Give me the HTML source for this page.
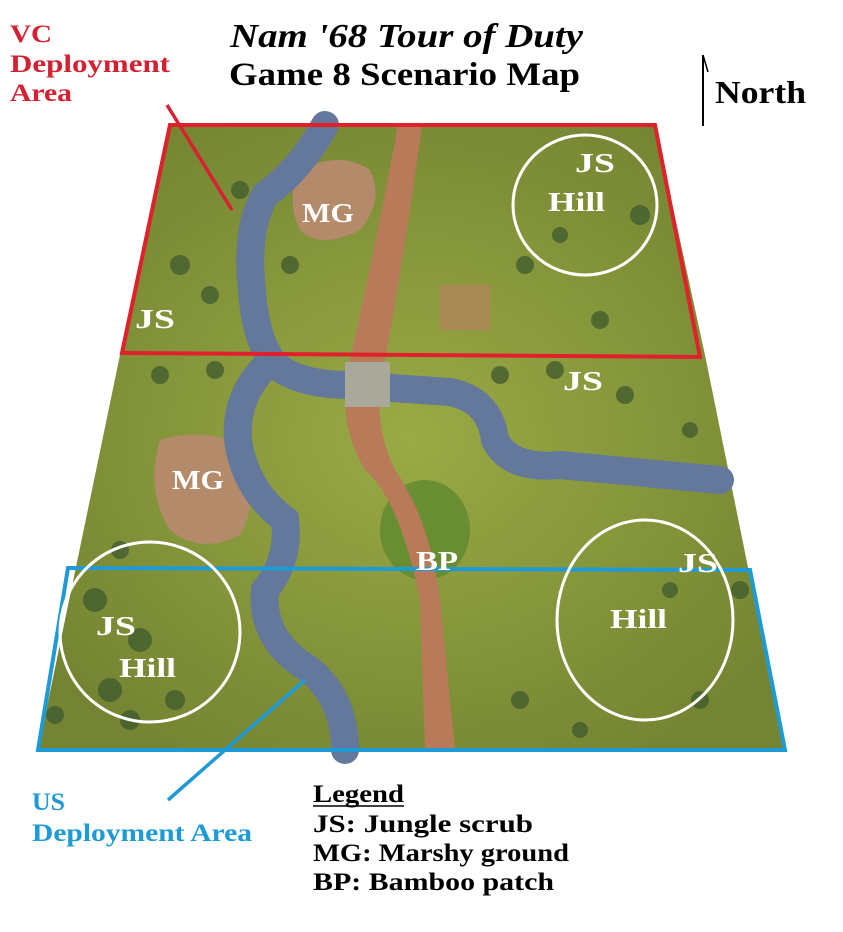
<!DOCTYPE html>
<html><head><meta charset="utf-8"><style>
html,body{margin:0;padding:0;background:#fff;width:843px;height:932px;overflow:hidden}
svg text{font-family:"Liberation Serif",serif;font-weight:bold}
</style></head><body>
<svg width="843" height="932" viewBox="0 0 843 932" xmlns="http://www.w3.org/2000/svg">
<defs>
<radialGradient id="g" cx="50%" cy="50%" r="60%"><stop offset="0" stop-color="#9aaa45"/><stop offset="1" stop-color="#748432"/></radialGradient>
</defs>
<polygon points="168,125 655,125 705,355 785,750 38,750 120,355" fill="url(#g)"/>
<g fill="#3f5a2e" opacity="0.75">
<circle cx="240" cy="190" r="9"/><circle cx="180" cy="265" r="10"/><circle cx="210" cy="295" r="9"/><circle cx="290" cy="265" r="9"/>
<circle cx="525" cy="265" r="9"/><circle cx="560" cy="235" r="8"/><circle cx="640" cy="215" r="10"/><circle cx="600" cy="320" r="9"/>
<circle cx="160" cy="375" r="9"/><circle cx="215" cy="370" r="9"/><circle cx="500" cy="375" r="9"/><circle cx="555" cy="370" r="9"/><circle cx="625" cy="395" r="9"/>
<circle cx="690" cy="430" r="8"/><circle cx="95" cy="600" r="12"/><circle cx="140" cy="640" r="12"/><circle cx="110" cy="690" r="12"/><circle cx="175" cy="700" r="10"/>
<circle cx="130" cy="720" r="10"/><circle cx="290" cy="660" r="10"/><circle cx="520" cy="700" r="9"/><circle cx="700" cy="700" r="9"/><circle cx="740" cy="590" r="9"/><circle cx="670" cy="590" r="8"/>
<circle cx="55" cy="715" r="9"/><circle cx="580" cy="730" r="8"/><circle cx="120" cy="550" r="9"/>
</g>
<ellipse cx="425" cy="530" rx="45" ry="50" fill="#5f8a2e" opacity="0.8"/>
<path d="M300,170 Q340,150 370,170 Q385,200 360,230 Q320,250 300,230 Q285,200 300,170Z" fill="#b48b6a"/>
<path d="M160,440 Q210,425 245,450 Q260,500 240,535 Q200,555 170,530 Q145,490 160,440Z" fill="#b48b6a"/>
<path d="M398,125 L422,125 Q405,250 385,360 Q370,420 395,470 Q430,520 440,600 L455,750 L425,750 L420,600 Q400,500 365,470 Q335,420 350,360 Q375,250 398,125Z" fill="#b87a58"/>
<rect x="440" y="285" width="50" height="45" fill="#a98a55"/>
<g fill="none" stroke="#63789a" stroke-width="28" stroke-linecap="round">
<path d="M325,125 Q300,170 265,195 Q245,230 252,290 Q255,340 275,365 Q300,385 350,385"/>
<path d="M350,385 L450,392 Q490,400 495,440 Q510,470 560,465 L720,480"/>
<path d="M262,370 Q235,400 238,440 Q245,490 285,520 Q290,560 265,590 Q260,640 310,670 Q345,700 345,750"/>
</g>
<rect x="345" y="362" width="45" height="45" fill="#aaa89a"/>
<polygon points="170,125 655,125 700,357 122,353" fill="none" stroke="#e0202a" stroke-width="4"/>
<line x1="232" y1="210" x2="167" y2="105" stroke="#d82030" stroke-width="3.5"/>
<polygon points="68,568 750,570 785,750 38,750" fill="none" stroke="#1e9ad6" stroke-width="4"/>
<line x1="305" y1="680" x2="168" y2="800" stroke="#1e9ad6" stroke-width="3.5"/>
<g fill="none" stroke="#fff" stroke-width="3">
<ellipse cx="585" cy="205" rx="72" ry="70"/>
<ellipse cx="150" cy="632" rx="90" ry="90"/>
<ellipse cx="645" cy="620" rx="88" ry="100"/>
</g>
<g fill="#fff" font-size="27">
<text x="575" y="172" textLength="40" lengthAdjust="spacingAndGlyphs">JS</text><text x="548" y="211" textLength="57" lengthAdjust="spacingAndGlyphs">Hill</text>
<text x="302" y="222" textLength="52" lengthAdjust="spacingAndGlyphs">MG</text>
<text x="135" y="328" textLength="40" lengthAdjust="spacingAndGlyphs">JS</text>
<text x="563" y="390" textLength="40" lengthAdjust="spacingAndGlyphs">JS</text>
<text x="172" y="489" textLength="52" lengthAdjust="spacingAndGlyphs">MG</text>
<text x="416" y="570" textLength="42" lengthAdjust="spacingAndGlyphs">BP</text>
<text x="678" y="572" textLength="40" lengthAdjust="spacingAndGlyphs">JS</text>
<text x="610" y="628" textLength="57" lengthAdjust="spacingAndGlyphs">Hill</text>
<text x="96" y="635" textLength="40" lengthAdjust="spacingAndGlyphs">JS</text><text x="119" y="677" textLength="57" lengthAdjust="spacingAndGlyphs">Hill</text>
</g>
<text x="230" y="47" font-size="34" font-style="italic" fill="#000" textLength="353" lengthAdjust="spacingAndGlyphs">Nam '68 Tour of Duty</text>
<text x="229" y="85" font-size="33" fill="#000" textLength="351" lengthAdjust="spacingAndGlyphs">Game 8 Scenario Map</text>
<line x1="703" y1="126" x2="703" y2="55" stroke="#000" stroke-width="2"/>
<line x1="703" y1="55" x2="708" y2="72" stroke="#000" stroke-width="1.5"/>
<text x="715" y="103" font-size="32" fill="#000" textLength="91" lengthAdjust="spacingAndGlyphs">North</text>
<g fill="#d42030" font-size="25"><text x="10" y="42" textLength="42" lengthAdjust="spacingAndGlyphs">VC</text><text x="10" y="72" textLength="160" lengthAdjust="spacingAndGlyphs">Deployment</text><text x="10" y="101" textLength="62" lengthAdjust="spacingAndGlyphs">Area</text></g>
<g fill="#1e9ad6" font-size="25"><text x="32" y="810" textLength="33" lengthAdjust="spacingAndGlyphs">US</text><text x="32" y="841" textLength="220" lengthAdjust="spacingAndGlyphs">Deployment Area</text></g>
<g fill="#000" font-size="25">
<text x="313" y="802" textLength="91" lengthAdjust="spacingAndGlyphs">Legend</text>
<text x="313" y="832" textLength="220" lengthAdjust="spacingAndGlyphs">JS:  Jungle scrub</text>
<text x="313" y="861" textLength="256" lengthAdjust="spacingAndGlyphs">MG:  Marshy ground</text>
<text x="313" y="890" textLength="241" lengthAdjust="spacingAndGlyphs">BP:  Bamboo patch</text>
</g>
<line x1="313" y1="806" x2="404" y2="806" stroke="#000" stroke-width="1.5"/>
</svg>
</body></html>
